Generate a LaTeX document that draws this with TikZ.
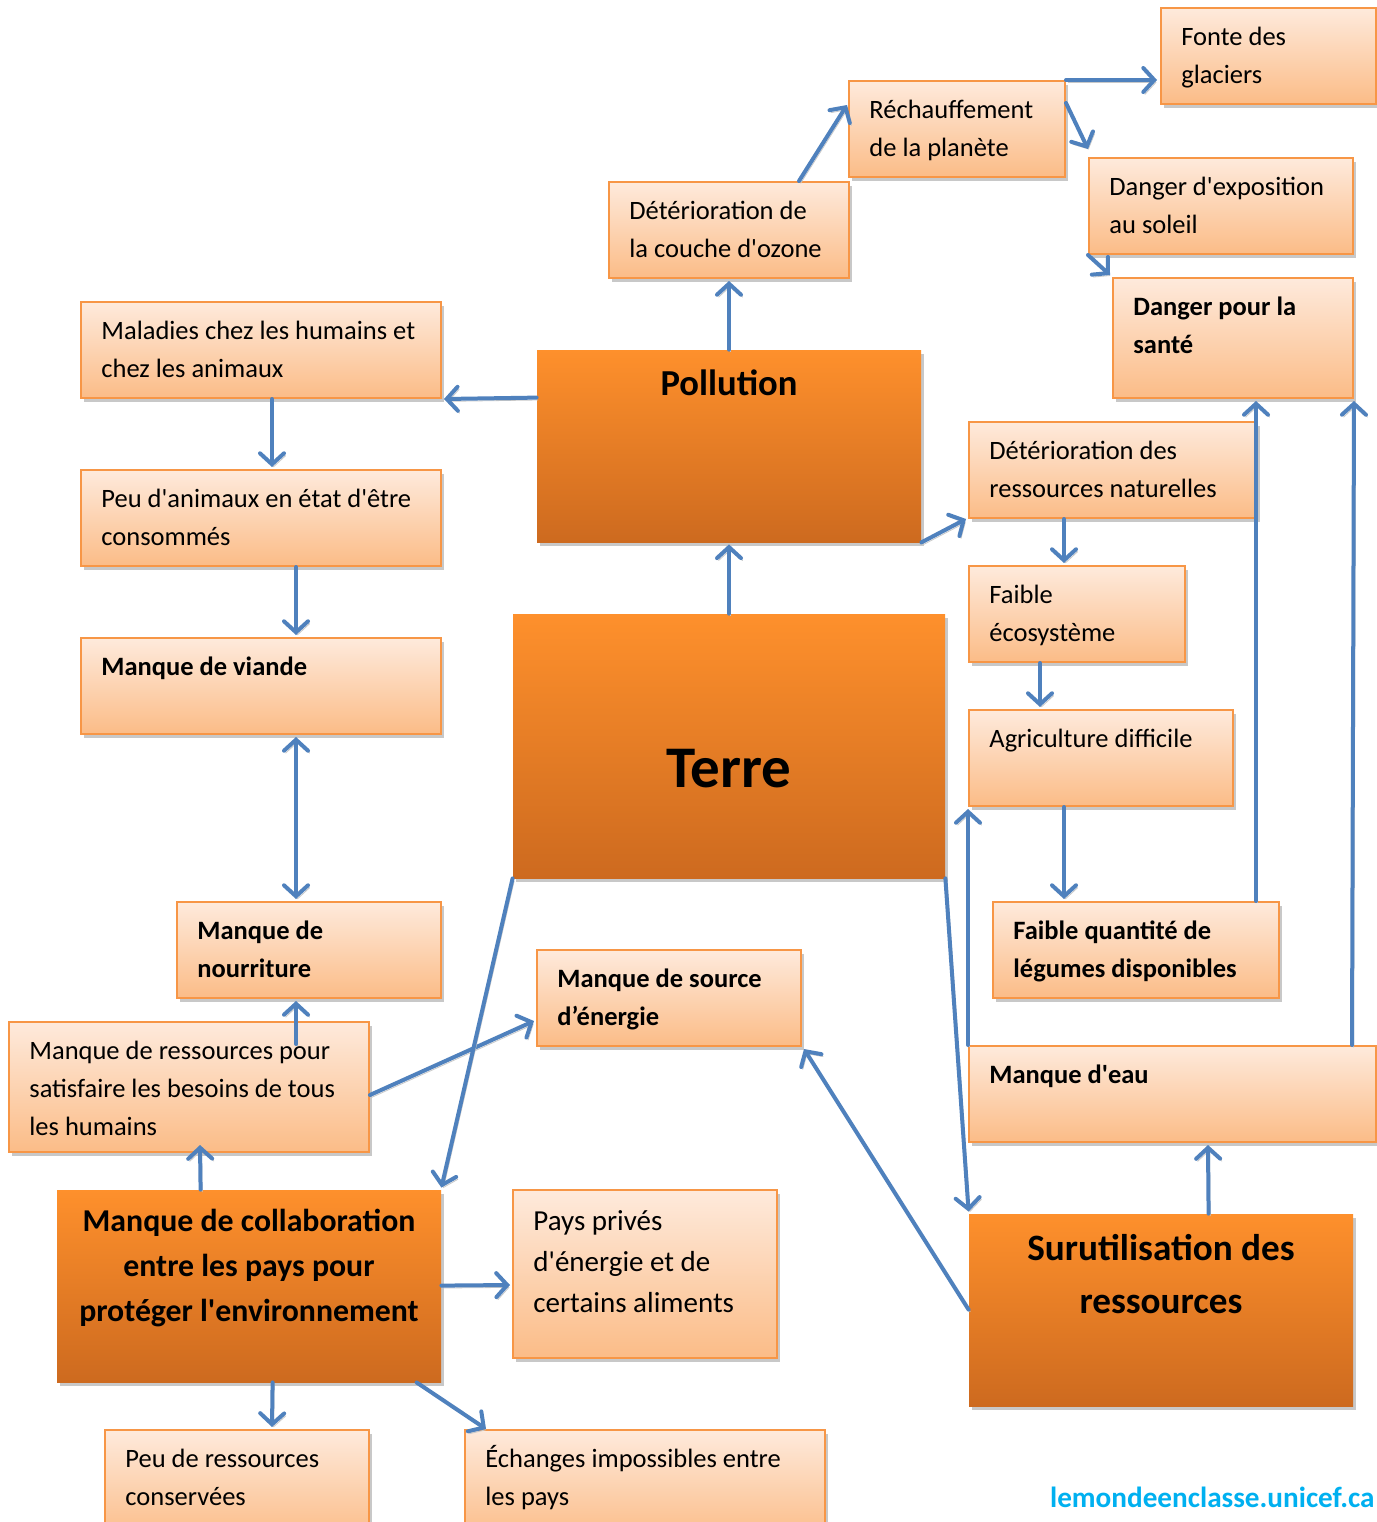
\documentclass[tikz,border=0pt]{standalone}
\usepackage{fontspec}
\setmainfont{Carlito}[Ligatures=TeXOff]
\usetikzlibrary{arrows.meta,fit,shadows,calc}
\definecolor{lt}{HTML}{FEEADC}
\definecolor{lb}{HTML}{FBBC87}
\definecolor{brd}{HTML}{F79646}
\definecolor{dt}{HTML}{FE902C}
\definecolor{db}{HTML}{CD6A1F}
\definecolor{arr}{HTML}{4F81BD}
\definecolor{shd}{HTML}{C8C8C8}
\definecolor{urlc}{HTML}{00B0F0}
\newcommand{\tabl}[1]{\begin{tabular}[t]{@{}l@{}}#1\end{tabular}}
\newcommand{\tabc}[1]{\begin{tabular}[t]{@{}c@{}}#1\end{tabular}}
\tikzset{
  shd/.style={drop shadow={shadow xshift=1.5pt,shadow yshift=-2pt,fill=shd,opacity=1}},
  lbox/.style={draw=brd, line width=1pt, top color=lt, bottom color=lb, inner sep=0pt, shd},
  dbox/.style={top color=dt, bottom color=db, inner sep=0pt, shd},
  txt/.style={anchor=base west, inner sep=0pt, font=\fontsize{13.25}{19}\selectfont},
  btxt/.style={anchor=base west, inner sep=0pt, font=\fontsize{13.25}{19}\selectfont\bfseries},
  conn/.style={draw=arr, line width=2pt, line cap=round, -{Straight Barb[length=5.5pt,width=12pt,line cap=round]},
    preaction={draw=shd, transform canvas={shift={(0.8pt,-1.2pt)}}}},
}
\begin{document}
\begin{tikzpicture}[x=0.5pt,y=-0.5pt]
\useasboundingbox (0,0) rectangle (1377,1522);
\fill[white] (0,0) rectangle (1377,1522);
% boxes
\node[lbox, fit={(1161,8) (1376,104)}] (fonte) {};
\node[lbox, fit={(849,81) (1065,177)}] (rech) {};
\node[lbox, fit={(1089,158) (1353,254)}] (expo) {};
\node[lbox, fit={(1113,278) (1353,398)}] (sante) {};
\node[lbox, fit={(609,182) (849,278)}] (ozone) {};
\node[lbox, fit={(81,302) (441,398)}] (malad) {};
\node[dbox, fit={(537,350) (921,542)}] (poll) {};
\node[lbox, fit={(969,422) (1257,518)}] (detres) {};
\node[lbox, fit={(81,470) (441,566)}] (peuani) {};
\node[lbox, fit={(969,566) (1185,662)}] (faibeco) {};
\node[dbox, fit={(513,614) (945,878)}] (terre) {};
\node[lbox, fit={(81,638) (441,734)}] (viande) {};
\node[lbox, fit={(969,710) (1233,806)}] (agri) {};
\node[lbox, fit={(177,902) (441,998)}] (nourr) {};
\node[lbox, fit={(993,902) (1279,998)}] (legum) {};
\node[lbox, fit={(537,950) (801,1046)}] (energ) {};
\node[lbox, fit={(9,1022) (369,1152)}] (mres) {};
\node[lbox, fit={(969,1046) (1376,1142)}] (eau) {};
\node[dbox, fit={(57,1190) (441,1382)}] (collab) {};
\node[lbox, fit={(513,1190) (777,1358)}] (pays) {};
\node[dbox, fit={(969,1214) (1353,1406)}] (surut) {};
\node[lbox, fit={(105,1430) (369,1540)}] (peuresc) {};
\node[lbox, fit={(465,1430) (825,1540)}] (echang) {};
% texts
\node[txt] at ($(fonte.north west)+(21,38)$) {\tabl{Fonte des\\glaciers}};
\node[txt] at ($(rech.north west)+(21,38)$) {\tabl{Réchauffement\\de la planète}};
\node[txt] at ($(expo.north west)+(21,38)$) {\tabl{Danger d'exposition\\au soleil}};
\node[btxt] at ($(sante.north west)+(21,38)$) {\tabl{Danger pour la\\santé}};
\node[txt] at ($(ozone.north west)+(21,38)$) {\tabl{Détérioration de\\la couche d'ozone}};
\node[txt] at ($(malad.north west)+(21,38)$) {\tabl{Maladies chez les humains et\\chez les animaux}};
\node[anchor=base, inner sep=0pt, font=\fontsize{18.3}{22}\selectfont\bfseries] at ($(poll.north)+(0,46)$) {Pollution};
\node[txt] at ($(detres.north west)+(21,38)$) {\tabl{Détérioration des\\ressources naturelles}};
\node[txt] at ($(peuani.north west)+(21,38)$) {\tabl{Peu d'animaux en état d'être\\consommés}};
\node[txt] at ($(faibeco.north west)+(21,38)$) {\tabl{Faible\\écosystème}};
\node[anchor=base, inner sep=0pt, font=\fontsize{29.5}{32}\selectfont\bfseries] at ($(terre.north)+(0,174)$) {Terre};
\node[btxt] at ($(viande.north west)+(21,38)$) {Manque de viande};
\node[txt] at ($(agri.north west)+(21,38)$) {Agriculture difficile};
\node[btxt] at ($(nourr.north west)+(21,38)$) {\tabl{Manque de\\nourriture}};
\node[btxt] at ($(legum.north west)+(21,38)$) {\tabl{Faible quantité de\\légumes disponibles}};
\node[btxt] at ($(energ.north west)+(21,38)$) {\tabl{Manque de source\\d’énergie}};
\node[txt] at ($(mres.north west)+(21,38)$) {\tabl{Manque de ressources pour\\satisfaire les besoins de tous\\les humains}};
\node[btxt] at ($(eau.north west)+(21,38)$) {Manque d'eau};
\node[anchor=base, inner sep=0pt, font=\fontsize{15.9}{22.5}\selectfont\bfseries] at ($(collab.north)+(0,42)$) {\tabc{Manque de collaboration\\entre les pays pour\\protéger l'environnement}};
\node[anchor=base west, inner sep=0pt, font=\fontsize{14.5}{20.5}\selectfont] at ($(pays.north west)+(21,41)$) {\tabl{Pays privés\\d'énergie et de\\certains aliments}};
\node[anchor=base, inner sep=0pt, font=\fontsize{18.6}{26.5}\selectfont\bfseries] at ($(surut.north)+(0,47)$) {\tabc{Surutilisation des\\ressources}};
\node[txt] at ($(peuresc.north west)+(21,38)$) {\tabl{Peu de ressources\\conservées}};
\node[txt] at ($(echang.north west)+(21,38)$) {\tabl{Échanges impossibles entre\\les pays}};
\node[anchor=base east, inner sep=0pt, text=urlc, font=\fontsize{14.6}{16}\selectfont\bfseries] (url) at (1375,1507) {lemondeenclasse.unicef.ca};
% connectors
\draw[conn] (poll.north) -- ($(ozone.south)+(0,2)$);
\draw[conn] ($(ozone.north west)+(191,0)$) -- ($(rech.north west)+(-1,25)$);
\draw[conn] (rech.north east) -- ($(fonte.north west)+(-3,73)$);
\draw[conn] ($(rech.north east)+(0,23)$) -- ($(expo.north west)+(0,-8)$);
\draw[conn] (expo.south west) -- ($(sante.north west)+(-2,-2)$);
\draw[conn] ($(poll.north west)+(0,48)$) -- ($(malad.south east)+(2,0)$);
\draw[conn] ($(malad.south west)+(192,0)$) -- ($(peuani.north west)+(192,-2)$);
\draw[conn] ($(peuani.south west)+(216,0)$) -- ($(viande.north west)+(216,-2)$);
\draw[conn, {Straight Barb[length=5.5pt,width=12pt,line cap=round]}-{Straight Barb[length=5.5pt,width=12pt,line cap=round]}] ($(viande.south west)+(216,2)$) -- ($(nourr.north west)+(120,-2)$);
\draw[conn] ($(mres.north west)+(288,23)$) -- ($(nourr.south west)+(120,2)$);
\draw[conn] ($(collab.north west)+(144,0)$) -- ($(mres.south west)+(192,-8)$);
\draw[conn] ($(mres.south east)+(0,-58)$) -- ($(energ.north west)+(-2,72)$);
\draw[conn] (terre.south west) -- ($(collab.north east)+(0,-2)$);
\draw[conn] (terre.north) -- ($(poll.south)+(0,2)$);
\draw[conn] (poll.south east) -- ($(detres.south west)+(-2,0)$);
\draw[conn] ($(detres.south west)+(96,0)$) -- ($(faibeco.north west)+(96,-2)$);
\draw[conn] ($(faibeco.south west)+(72,0)$) -- ($(agri.north west)+(72,-2)$);
\draw[conn] ($(agri.south west)+(96,0)$) -- ($(legum.north west)+(72,-2)$);
\draw[conn] ($(legum.north west)+(264,0)$) -- ($(sante.south west)+(144,2)$);
\draw[conn] ($(eau.north west)+(384,0)$) -- ($(sante.south east)+(0,2)$);
\draw[conn] (eau.north west) -- ($(agri.south west)+(0,2)$);
\draw[conn] (terre.south east) -- ($(surut.north west)+(0,-2)$);
\draw[conn] ($(surut.north west)+(240,0)$) -- ($(eau.south west)+(240,2)$);
\draw[conn] ($(surut.north west)+(0,96)$) -- ($(energ.south east)+(2,2)$);
\draw[conn] ($(collab.north east)+(0,96)$) -- ($(pays.north west)+(-2,96)$);
\draw[conn] ($(collab.south west)+(216,0)$) -- ($(peuresc.north west)+(168,-2)$);
\draw[conn] ($(collab.south west)+(360,0)$) -- ($(echang.north west)+(22,0)$);
\end{tikzpicture}
\end{document}
